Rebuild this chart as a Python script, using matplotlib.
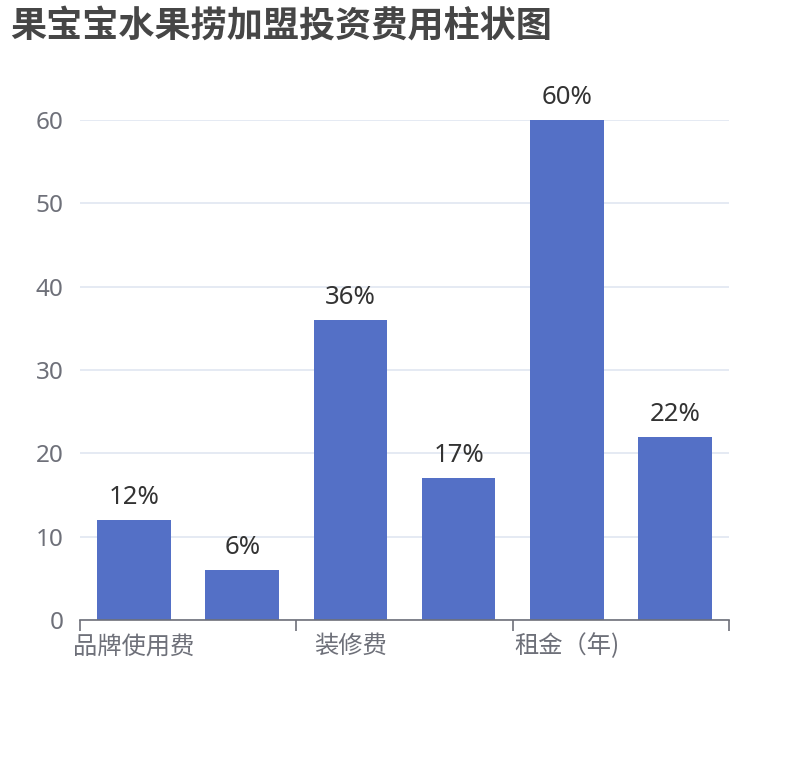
import matplotlib
matplotlib.use('Agg')
import matplotlib.pyplot as plt
import numpy as np

plt.rcParams['font.family'] = ['Noto Sans CJK SC', 'DejaVu Sans']
num_font = ['Noto Sans', 'Noto Sans CJK SC']

# 6 categories, only every other label is shown in the original
categories = ['品牌使用费', '设备费', '装修费', '首批进货', '租金（年)', '流动资金']
values = [12, 6, 36, 17, 60, 22]
bar_labels = ['12%', '6%', '36%', '17%', '60%', '22%']
yticks = [0, 10, 20, 30, 40, 50, 60]

fig = plt.figure(figsize=(8.1, 7.6), dpi=100)
ax = fig.add_axes([80/810, 140/760, 649/810, 500/760])

x = np.arange(len(categories))
bars = ax.bar(x, values, width=0.68, color='#5470C6', zorder=3)
for b, lab in zip(bars, bar_labels):
    ax.annotate(lab, (b.get_x() + b.get_width()/2, b.get_height()),
                xytext=(0, 10), textcoords='offset pixels',
                ha='center', va='bottom', fontsize=18.5, color='#333333',
                family=num_font)

ax.set_xlim(-0.5, len(categories) - 0.5)
ax.set_ylim(0, 60)
ax.set_yticks(yticks)
ax.set_yticklabels([str(v) for v in yticks], fontsize=17.5, color='#6E7079',
                   family=num_font)
ax.tick_params(axis='y', length=0, pad=12)
ax.grid(axis='y', color='#E0E6F1', linewidth=1.2, zorder=0)

# ticks at every second category boundary, labels centred under shown categories
ax.set_xticks([-0.5, 1.5, 3.5, 5.5])
ax.set_xticklabels([])
ax.tick_params(axis='x', length=8, width=1.2, color='#6E7079')
for i in range(0, len(categories), 2):
    ax.text(i, -1.6, categories[i], ha='center', va='top', fontsize=17.5,
            color='#6E7079')

for s in ['top', 'right', 'left']:
    ax.spines[s].set_visible(False)
ax.spines['bottom'].set_color('#6E7079')
ax.spines['bottom'].set_linewidth(1.2)
ax.spines['bottom'].set_zorder(4)

fig.text(10/810, 1 - 26/760, '果宝宝水果捞加盟投资费用柱状图', ha='left', va='center',
         fontsize=26, fontweight='bold', color='#464646')

fig.savefig('out.png', dpi=100)
